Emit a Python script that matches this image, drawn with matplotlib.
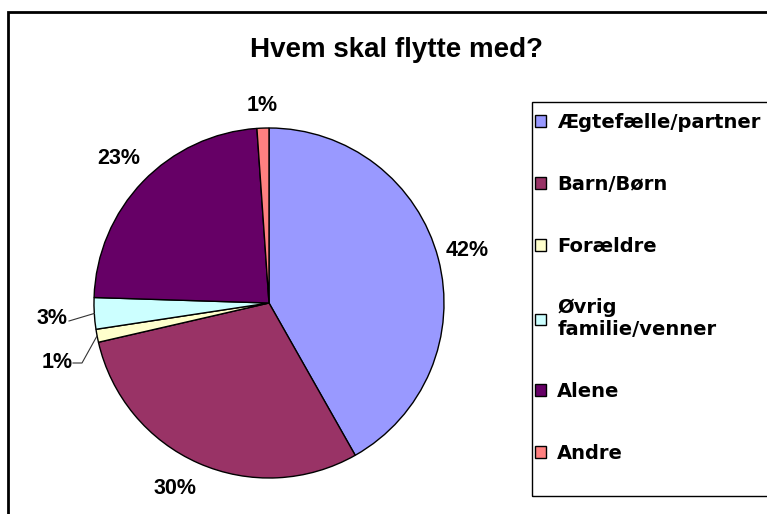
import numpy as np
import matplotlib.pyplot as plt
from matplotlib.patches import Rectangle

categories = ["Ægtefælle/partner", "Barn/Børn", "Forældre", "Øvrig\nfamilie/venner", "Alene", "Andre"]
shares = [41.8, 29.6, 1.2, 2.9, 23.4, 1.1]
colors = ["#9999FF", "#993366", "#FFFFCC", "#CCFFFF", "#660066", "#FF8080"]
title = "Hvem skal flytte med?"

W, H = 767, 514
CX, CY, R = 269, 303, 175  # pie centre / radius in pixels


def px(x, y):
    # pixel position -> pie data coords
    return (x - CX) / R, (CY - y) / R


fig = plt.figure(figsize=(W / 100, H / 100), dpi=100)
ax = fig.add_axes([(CX - R) / W, (H - CY - R) / H, 2 * R / W, 2 * R / H])

wedges, _ = ax.pie(shares, colors=colors, startangle=90, counterclock=False,
                   wedgeprops=dict(edgecolor="black", linewidth=1.0))
ax.set_xlim(-1, 1)
ax.set_ylim(-1, 1)
ax.set_aspect("auto")
ax.axis("off")

lab_font = dict(family="Liberation Sans", fontweight="bold", fontsize=15.5,
                ha="center", va="center", clip_on=False)

# label distance from centre (in radii) and angle nudge per slice
lab_dist = [1.17, 1.19, None, None, 1.19, 1.13]
lab_nudge = [0, -3, 0, 0, 0, 0]
manual = {2: px(57, 362), 3: px(52, 319)}

for i, (w, v) in enumerate(zip(wedges, shares)):
    mid = np.deg2rad((w.theta1 + w.theta2) / 2 + lab_nudge[i])
    txt = f"{v:.0f}%"
    edge = (np.cos(mid), np.sin(mid))
    if i in manual:
        tx, ty = manual[i]
        ax.text(tx, ty, txt, **lab_font)
        if i == 3:
            xs = [px(69, 321)[0], edge[0]]
            ys = [px(69, 321)[1], edge[1]]
        else:
            xs = [px(73, 363)[0], px(82, 363)[0], edge[0]]
            ys = [px(73, 363)[1], px(82, 363)[1], edge[1]]
        ax.plot(xs, ys, color="#333333", lw=0.8, clip_on=False)
    else:
        d = lab_dist[i]
        ax.text(d * np.cos(mid), d * np.sin(mid), txt, **lab_font)

fig.text(397 / W, 1 - 50 / H, title, family="Liberation Sans", fontweight="bold",
         fontsize=20, ha="center", va="center")

leg = ax.legend(wedges, categories, loc="upper left",
                bbox_to_anchor=(535 / W, 1 - 113 / H), bbox_transform=fig.transFigure,
                frameon=False, prop=dict(family="DejaVu Sans", weight="bold", size=14),
                labelspacing=2.2, handlelength=0.55, handleheight=0.55, handletextpad=0.6,
                borderpad=0, borderaxespad=0)

# legend box and outer chart border
fig.add_artist(Rectangle((532 / W, 1 - 496 / H), 0.5, (496 - 102) / H,
                         transform=fig.transFigure, fill=False, lw=1.0, ec="black"))
fig.add_artist(Rectangle((8 / W, -0.1), 1.1, 1.1 - 12 / H,
                         transform=fig.transFigure, fill=False, lw=2.0, ec="black"))

fig.savefig("out.png", dpi=100)
